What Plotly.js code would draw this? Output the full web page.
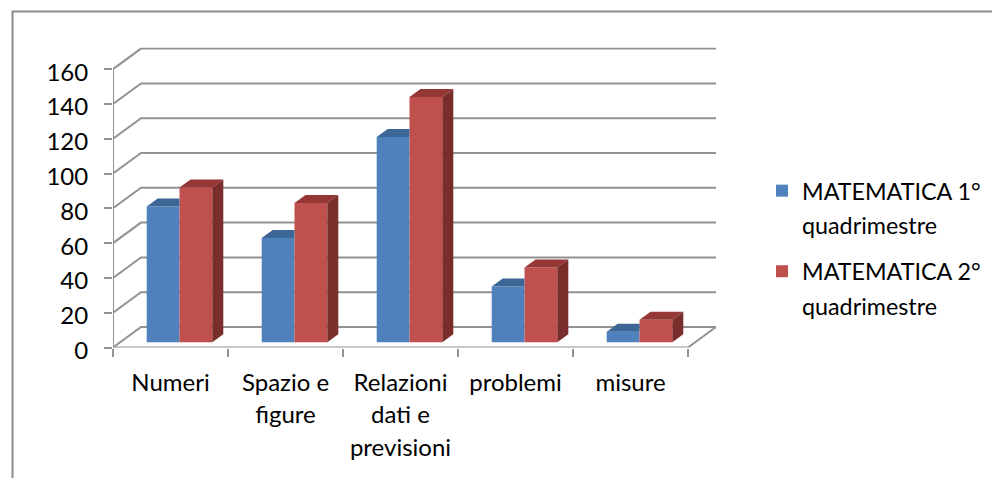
<!DOCTYPE html>
<html>
<head>
<meta charset="utf-8">
<script src="https://cdn.plot.ly/plotly-3.0.1.min.js"></script>
<style>html,body{margin:0;padding:0;background:#fff}</style>
</head>
<body>
<div id="chart" style="width:992px;height:478px"></div>
<script>
const categories = ["Numeri", "Spazio e<br>figure", "Relazioni<br>dati e<br>previsioni", "problemi", "misure"];
const primoQuad = [78, 60, 118, 32, 6];
const secondoQuad = [89, 80, 141, 43, 13];
const seriesNames = ["MATEMATICA 1°<br>quadrimestre", "MATEMATICA 2°<br>quadrimestre"];
const yTicks = [0, 20, 40, 60, 80, 100, 120, 140, 160];

const blue = "#4F81BD", blueTop = "#3C6696";
const red = "#C0504D", redTop = "#943735", redSide = "#7A2E2C";
const grid = "#929292";

// oblique projection of the 3D look, expressed in axis units
const W = 992, H = 478, pxX = 115, pxY = 1.74;
const wallDx = 28 / pxX, wallDy = 20.5 / pxY;
const barDx = 11 / pxX, barDy = 8 / pxY;
const lift = 5.2 / pxY;
const shift = 9 / pxX, barW = 32.8 / pxX;
const x0 = -0.5, xFront = categories.length - 0.5, xEnd = xFront + wallDx;

const path = pts => "M" + pts.map(p => p[0] + "," + p[1]).join("L");
const gridShape = pts => ({type: "path", xref: "x", yref: "y", layer: "below", path: path(pts),
  line: {color: grid, width: 2}});
const shapes = yTicks.map(v => gridShape([[x0, v], [x0 + wallDx, v + wallDy], [xEnd, v + wallDy]]));
shapes.push(gridShape([[x0, 0], [x0, yTicks[yTicks.length - 1]]]));
shapes.push(gridShape([[x0, 0], [xFront, 0], [xEnd, wallDy]]));
// outer frame of the chart
shapes.push({type: "path", xref: "paper", yref: "paper", layer: "below",
  path: path([[12.5 / W, 0], [12.5 / W, 1 - 11.5 / H], [1, 1 - 11.5 / H]]),
  line: {color: "#8C8C8C", width: 2}});

const idx = categories.map((_, i) => i);
const face = (pts, color) => ({type: "scatter", mode: "lines", x: pts.map(p => p[0]), y: pts.map(p => p[1]),
  fill: "toself", fillcolor: color, line: {width: 0, color: color}, hoverinfo: "skip", showlegend: false, cliponaxis: false});

const faces = [];
idx.forEach(i => {
  const a = i + shift - barW, b = i + shift, c = i + shift + barW;
  const t1 = primoQuad[i] + lift, t2 = secondoQuad[i] + lift;
  faces.push(face([[a, t1], [b, t1], [b, t1 + barDy], [a + barDx, t1 + barDy], [a, t1]], blueTop));
  faces.push(face([[b, t2], [c, t2], [c + barDx, t2 + barDy], [b + barDx, t2 + barDy], [b, t2]], redTop));
  faces.push(face([[c, lift], [c + barDx, lift + barDy], [c + barDx, t2 + barDy], [c, t2], [c, lift]], redSide));
});

const fronts = [
  {type: "bar", name: seriesNames[0], legendgroup: "q1", x: idx.map(i => i + shift - barW / 2), y: primoQuad,
   base: idx.map(() => lift), width: barW, marker: {color: blue}},
  {type: "bar", name: seriesNames[1], legendgroup: "q2", x: idx.map(i => i + shift + barW / 2), y: secondoQuad,
   base: idx.map(() => lift), width: barW, marker: {color: red}}
];

const layout = {
  width: W, height: H, autosize: false, showlegend: true,
  margin: {l: 0, r: 0, t: 0, b: 0},
  paper_bgcolor: "#fff", plot_bgcolor: "rgba(0,0,0,0)",
  barmode: "overlay",
  font: {family: "Lato, sans-serif", size: 24, color: "#000"},
  xaxis: {
    domain: [113 / W, 718 / W], range: [x0, x0 + 605 / pxX], showgrid: false, zeroline: false, showline: false,
    tickmode: "array", tickvals: idx, ticktext: categories, ticks: "", tickangle: 0, ticklabelstandoff: 18,
    minor: {tickmode: "array", tickvals: [-0.5, 0.5, 1.5, 2.5, 3.5, 4.5], ticks: "outside", ticklen: 8, tickwidth: 2, tickcolor: grid, showgrid: false}
  },
  yaxis: {
    domain: [1 - 347.5 / H, 1 - 47.5 / H], range: [0, 300 / pxY], showgrid: false, zeroline: false, showline: false,
    tickmode: "array", tickvals: yTicks, ticks: "outside", ticklen: 8, tickwidth: 2, tickcolor: grid, ticklabelstandoff: 11
  },
  legend: {x: 762 / W, xanchor: "left", y: 1 - 169 / H, yanchor: "top", valign: "top", bgcolor: "rgba(0,0,0,0)",
    traceorder: "grouped", tracegroupgap: 17, font: {size: 23.3}},
  shapes: shapes
};

Plotly.newPlot("chart", fronts.concat(faces), layout, {displayModeBar: false, staticPlot: true}).then(gd => {
  // reference text is set with looser leading than Plotly's default
  const leading = (sel, k) => gd.querySelectorAll(sel).forEach(t => {
    t.querySelectorAll("tspan.line").forEach((l, i) => l.setAttribute("dy", (i * k) + "em"));
  });
  leading(".xtick text", 1.355);
  leading(".legendtext", 1.48);
  gd.querySelectorAll(".ytick text").forEach(t => t.setAttribute("dy", "3"));
  gd.querySelectorAll(".legend .legendbar path").forEach(p => p.setAttribute("transform", "translate(26,3) scale(1.25)"));
});
</script>
</body>
</html>
